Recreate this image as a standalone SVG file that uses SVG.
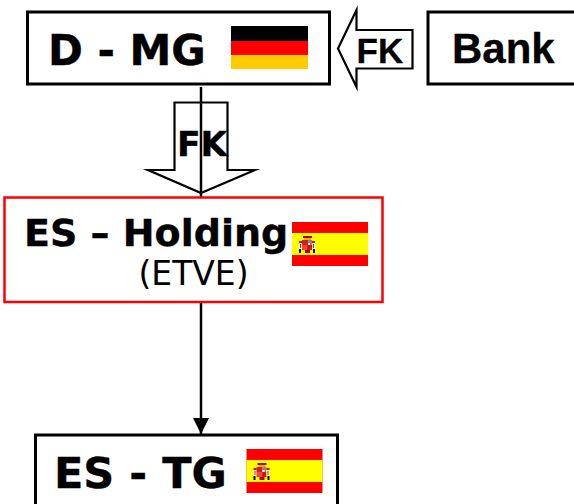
<svg xmlns="http://www.w3.org/2000/svg" width="574" height="504" viewBox="0 0 574 504">
<style>
.box{fill:#fff;stroke:#000;stroke-width:3}
.arr{fill:#fff;stroke:#000;stroke-width:2.200;stroke-miterlimit:12}
.t{font-family:"DejaVu Sans",Verdana,sans-serif;font-weight:bold;fill:#000;stroke:#000;stroke-width:.4}
.l{font-family:"Liberation Sans",Arial,sans-serif;font-weight:bold;fill:#000;stroke:#000;stroke-width:.3}
.c{stroke:#000;stroke-width:2.500;fill:none}
</style>
<defs>
<marker id="ah" markerUnits="userSpaceOnUse" markerWidth="16" markerHeight="16" refX="16" refY="8" orient="auto"><path d="M0 0L16 8L0 16Z" fill="#000"/></marker>
<g id="es">
<rect width="76" height="44" fill="#f00"/>
<rect y="11" width="76" height="22" fill="#ff0"/>
<rect x="7" y="19" width="3" height="2" fill="#f00"/>
<rect x="7" y="21" width="3" height="6" fill="#fff"/>
<rect x="8" y="22" width="1" height="4" fill="#f00"/>
<rect x="7" y="27" width="2" height="4" fill="#000"/>
<rect x="11" y="14" width="9" height="2" fill="#a00"/>
<rect x="12" y="16" width="7" height="2" fill="#fa0"/>
<rect x="10" y="18" width="6" height="5" fill="#c22"/>
<rect x="16" y="18" width="4" height="5" fill="#888"/>
<rect x="16" y="21" width="2" height="2" fill="#fff"/>
<rect x="10" y="23" width="5" height="5" fill="#e44"/>
<rect x="15" y="23" width="5" height="5" fill="#d11"/>
<rect x="13" y="28" width="5" height="3" fill="#a00"/>
<rect x="20" y="19" width="3" height="2" fill="#f00"/>
<rect x="20" y="21" width="3" height="6" fill="#fff"/>
<rect x="21" y="22" width="1" height="4" fill="#f00"/>
<rect x="21" y="27" width="2" height="4" fill="#000"/>
</g>
</defs>
<g id="connectors">
<path class="arr" d="M412.500 30H356.500V10L338 48.500L356.500 87V68.500H412.500Z"/>
<path class="arr" d="M174.500 102.500H227.500V170H255L201 193L148 170H174.500Z"/>
<path class="c" d="M201 87V197"/>
<path class="c" d="M201 303V434" marker-end="url(#ah)"/>
</g>
<text class="t" x="177" y="156" font-size="34.500">FK</text>
<text class="l" x="356.500" y="63" font-size="35">FK</text>
<g id="d-mg">
<rect class="box" x="27.500" y="12" width="302" height="72"/>
<text class="t" x="48" y="65" font-size="42">D - MG</text>
<rect x="231" y="26" width="77" height="15" fill="#000"/>
<rect x="231" y="41" width="77" height="14" fill="#f00"/>
<rect x="231" y="55" width="77" height="14" fill="#fc0"/>
</g>
<g id="bank">
<rect class="box" x="428" y="12" width="150" height="72"/>
<text class="l" x="452" y="63" font-size="42">Bank</text>
</g>
<g id="es-holding">
<rect x="4.500" y="197.500" width="378" height="104.500" fill="#fff" stroke="#f00" stroke-width="2.500"/>
<text class="t" x="24" y="246" font-size="38">ES – Holding</text>
<text x="193.500" y="285" text-anchor="middle" font-family="DejaVu Sans,Verdana,sans-serif" font-size="33" fill="#000">(ETVE)</text>
<use href="#es" x="292" y="222"/>
</g>
<g id="es-tg">
<rect class="box" x="35.500" y="435" width="302" height="80"/>
<text class="t" x="54" y="488" font-size="43">ES - TG</text>
<use href="#es" x="246.500" y="449"/>
</g>
</svg>
